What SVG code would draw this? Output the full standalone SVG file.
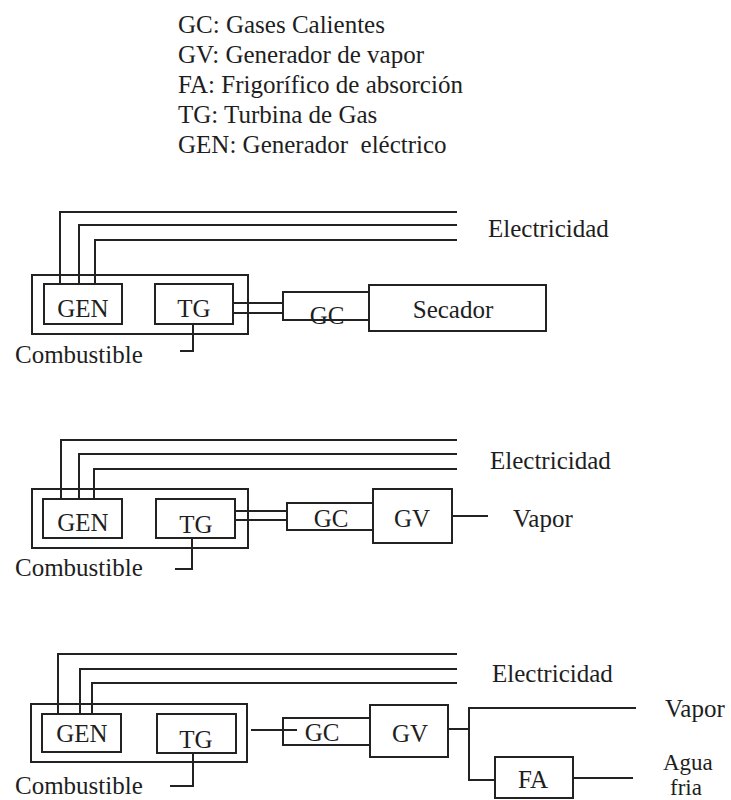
<svg xmlns="http://www.w3.org/2000/svg" width="731" height="800" viewBox="0 0 731 800">
<style>
.t{font-family:"Liberation Serif","Times New Roman",serif;font-size:25px;fill:#1e1e1e;white-space:pre}
.s{font-size:23px}
.m{text-anchor:middle}
.b{fill:none;stroke:#222;stroke-width:2}
</style>
<rect width="731" height="800" fill="#fff"/>
<g id="legend" font-family="'Liberation Serif', 'Times New Roman', serif">
<text class="t" x="178" y="33">GC: Gases Calientes</text>
<text class="t" x="178" y="63">GV: Generador de vapor</text>
<text class="t" x="178" y="93">FA: Frigorífico de absorción</text>
<text class="t" x="178" y="123">TG: Turbina de Gas</text>
<text class="t" x="178" y="153" xml:space="preserve">GEN: Generador  eléctrico</text>
</g>

<!-- Diagram 1 -->
<g id="d1-unit"><rect class="b" x="32" y="275" width="216" height="59"/></g>
<g id="d1-gen"><rect class="b" x="44" y="284" width="78" height="40"/><text class="t m" x="83" y="317">GEN</text></g>
<g id="d1-tg"><rect class="b" x="155" y="284" width="78" height="40"/><text class="t m" x="194" y="317">TG</text></g>
<g id="d1-gc"><rect class="b" x="283" y="292" width="86" height="28"/><text class="t m" x="327" y="324">GC</text></g>
<g id="d1-secador"><rect class="b" x="369" y="285" width="177" height="46"/><text class="t m" x="453" y="318">Secador</text></g>
<g id="d1-connectors">
<path class="b" d="M60,284V212H457M79,284V225H457M95,284V240H457"/>
<path class="b" d="M233,303H283M233,313H283"/>
<path class="b" d="M193,324V351H180"/>
</g>
<text class="t" x="488" y="237">Electricidad</text>
<text class="t" x="15" y="363">Combustible</text>

<!-- Diagram 2 -->
<g id="d2-unit"><rect class="b" x="32" y="489" width="216" height="59"/></g>
<g id="d2-gen"><rect class="b" x="43" y="499" width="79" height="39"/><text class="t m" x="83" y="531">GEN</text></g>
<g id="d2-tg"><rect class="b" x="156" y="499" width="79" height="39"/><text class="t m" x="196" y="533">TG</text></g>
<g id="d2-gc"><rect class="b" x="287" y="503" width="86" height="27"/><text class="t m" x="331" y="527">GC</text></g>
<g id="d2-gv"><rect class="b" x="373" y="489" width="79" height="54"/><text class="t m" x="412" y="527">GV</text></g>
<g id="d2-connectors">
<path class="b" d="M61,499V440H457M79,499V454H457M94,499V469H457"/>
<path class="b" d="M235,511H287M235,520H287"/>
<path class="b" d="M452,516H488"/>
<path class="b" d="M192,538V569H175"/>
</g>
<text class="t" x="490" y="469">Electricidad</text>
<text class="t" x="513" y="527">Vapor</text>
<text class="t" x="15" y="576">Combustible</text>

<!-- Diagram 3 -->
<g id="d3-unit"><rect class="b" x="31" y="704" width="216" height="58"/></g>
<g id="d3-gen"><rect class="b" x="42" y="714" width="79" height="38"/><text class="t m" x="82" y="742">GEN</text></g>
<g id="d3-tg"><rect class="b" x="157" y="714" width="79" height="39"/><text class="t m" x="196" y="748">TG</text></g>
<g id="d3-gc"><rect class="b" x="283" y="718" width="87" height="27"/><text class="t m" x="322" y="741">GC</text></g>
<g id="d3-gv"><rect class="b" x="370" y="705" width="78" height="52"/><text class="t m" x="410" y="742">GV</text></g>
<g id="d3-fa"><rect class="b" x="495" y="757" width="78" height="41"/><text class="t m" x="533" y="788">FA</text></g>
<g id="d3-connectors">
<path class="b" d="M58,714V654H457M80,714V669H457M92,714V683H457"/>
<path class="b" d="M251,730H297"/>
<path class="b" d="M448,729H469M636,708H469V780H495"/>
<path class="b" d="M573,778H633"/>
<path class="b" d="M193,753V786H170"/>
</g>
<text class="t" x="492" y="682">Electricidad</text>
<text class="t" x="665" y="717">Vapor</text>
<text class="t s" x="663" y="770">Agua</text>
<text class="t s" x="670" y="795">fria</text>
<text class="t" x="15" y="794">Combustible</text>
</svg>
